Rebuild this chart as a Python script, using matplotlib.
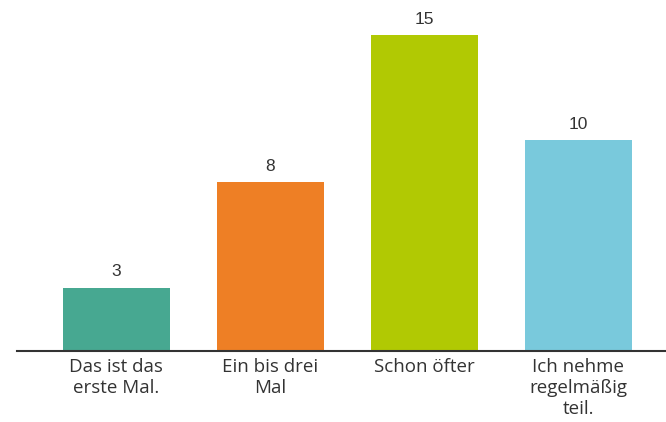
import matplotlib
matplotlib.use("Agg")
import matplotlib.pyplot as plt

categories = ["Das ist das\nerste Mal.", "Ein bis drei\nMal", "Schon öfter", "Ich nehme\nregelmäßig\nteil."]
values = [3, 8, 15, 10]
colors = ["#47a891", "#ee7f25", "#b1c903", "#79c9dc"]

fig = plt.figure(figsize=(6.66, 4.22), dpi=100)
ax = fig.add_axes([17/666, 71/422, 649/666, 351/422])
x = list(range(len(values)))
bars = ax.bar(x, values, width=0.695, color=colors, zorder=2)
ax.set_xlim(-0.643, 3.571)
ax.set_ylim(0, 351/21.07)

for xi, v in zip(x, values):
    ax.annotate(str(v), (xi, v), xytext=(0, 6), textcoords="offset points",
                ha="center", va="bottom", fontsize=12.5, color="#333333",
                family="Liberation Sans")

for s in ["top", "right", "left"]:
    ax.spines[s].set_visible(False)
ax.spines["bottom"].set_color("#333333")
ax.spines["bottom"].set_linewidth(1.5)
ax.set_yticks([])
ax.set_xticks(x)
ax.set_xticklabels(categories, fontsize=13.5, color="#333333", family="Open Sans",
                   linespacing=1.2)
ax.tick_params(axis="x", length=0, pad=5)

fig.savefig("out.png", dpi=100)
